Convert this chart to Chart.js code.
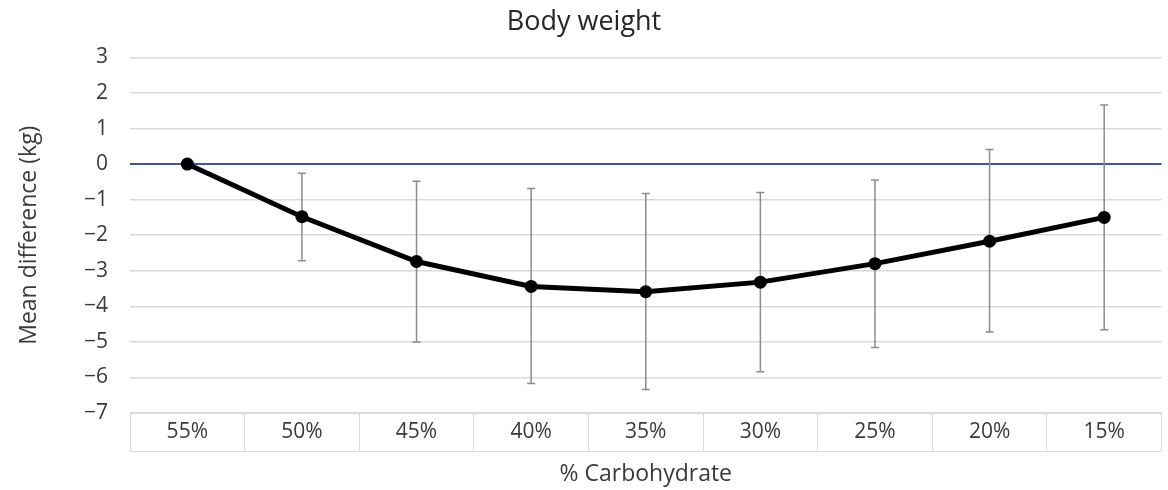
<!DOCTYPE html>
<html>
<head>
<meta charset="utf-8">
<script src="https://cdn.jsdelivr.net/npm/chart.js@4.4.1/dist/chart.umd.min.js"></script>
<style>
  html, body { margin: 0; padding: 0; background: #fff; }
  canvas { display: block; }
</style>
</head>
<body>
<canvas id="chart-bw" width="1168" height="490"></canvas>
<script>
// values
const carbLevels = ['55%', '50%', '45%', '40%', '35%', '30%', '25%', '20%', '15%'];
const meanDiff   = [0, -1.48, -2.74, -3.44, -3.59, -3.32, -2.80, -2.17, -1.50];
const ciLower    = [null, -2.72, -5.00, -6.17, -6.34, -5.84, -5.16, -4.72, -4.66];
const ciUpper    = [null, -0.26, -0.48, -0.69, -0.83, -0.80, -0.45, 0.41, 1.66];

const FONT = '"Open Sans", "DejaVu Sans", sans-serif';
const TEXT = '#3a3a3a';
const GRID = '#d9d9d9';
const TABLE_ROW = 38;

/* ── error bars, drawn under the line ── */
const errorBars = {
  id: 'errorBars',
  beforeDatasetsDraw(chart) {
    const { ctx, scales: { x, y } } = chart;
    ctx.save();
    ctx.strokeStyle = '#8c8c8c';
    ctx.lineWidth = 1.5;
    carbLevels.forEach((_, i) => {
      if (ciLower[i] == null) return;
      const px = x.getPixelForValue(i);
      const y1 = y.getPixelForValue(ciUpper[i]);
      const y2 = y.getPixelForValue(ciLower[i]);
      ctx.beginPath();
      ctx.moveTo(px, y1); ctx.lineTo(px, y2);
      ctx.moveTo(px - 4, y1); ctx.lineTo(px + 4, y1);
      ctx.moveTo(px - 4, y2); ctx.lineTo(px + 4, y2);
      ctx.stroke();
    });
    ctx.restore();
  }
};

/* ── bottom edge of the category table ── */
const tableEdge = {
  id: 'tableEdge',
  afterDraw(chart) {
    const { ctx, scales: { x } } = chart;
    const yb = x.top + TABLE_ROW;
    ctx.save();
    ctx.strokeStyle = GRID;
    ctx.lineWidth = 1;
    ctx.beginPath();
    ctx.moveTo(x.left, yb + 0.5);
    ctx.lineTo(x.right, yb + 0.5);
    ctx.stroke();
    ctx.restore();
  }
};

new Chart(document.getElementById('chart-bw'), {
  type: 'line',
  data: {
    labels: carbLevels,
    datasets: [{
      data: meanDiff,
      borderColor: '#000',
      backgroundColor: '#000',
      borderWidth: 5,
      pointRadius: 6.5,
      pointBackgroundColor: '#000',
      pointBorderWidth: 0,
      tension: 0
    }]
  },
  options: {
    responsive: false,
    animation: false,
    layout: { padding: 0 },
    plugins: {
      legend: { display: false },
      tooltip: { enabled: false },
      title: {
        display: true,
        text: 'Body weight',
        color: '#262626',
        font: { family: FONT, size: 27, weight: 'normal' },
        padding: { top: 6, bottom: 19 }
      }
    },
    scales: {
      x: {
        offset: true,
        afterFit: s => { s.height = 77; },
        grid: {
          offset: true,
          drawOnChartArea: false,
          drawTicks: true,
          tickLength: TABLE_ROW,
          color: GRID
        },
        border: { display: true, color: GRID },
        ticks: {
          color: TEXT,
          padding: -31.6,
          font: { family: FONT, size: 21 }
        },
        title: {
          display: true,
          text: '% Carbohydrate',
          color: TEXT,
          font: { family: FONT, size: 23 },
          padding: { top: 0, bottom: 2 }
        }
      },
      y: {
        min: -7,
        max: 3,
        afterFit: s => { s.width = 130; },
        ticks: {
          stepSize: 1,
          color: TEXT,
          padding: 22,
          font: { family: FONT, size: 21 },
          callback: v => (v < 0 ? '\u2212' + Math.abs(v) : String(v))
        },
        grid: {
          drawTicks: false,
          color: c => c.tick && c.tick.value === 0 ? '#44549c' : GRID,
          lineWidth: c => c.tick && c.tick.value === 0 ? 2 : 1.5
        },
        border: { display: false },
        title: {
          display: true,
          text: 'Mean difference (kg)',
          color: TEXT,
          font: { family: FONT, size: 23 },
          padding: { top: 16, bottom: 0 }
        }
      }
    }
  },
  plugins: [errorBars, tableEdge]
});
</script>
</body>
</html>
